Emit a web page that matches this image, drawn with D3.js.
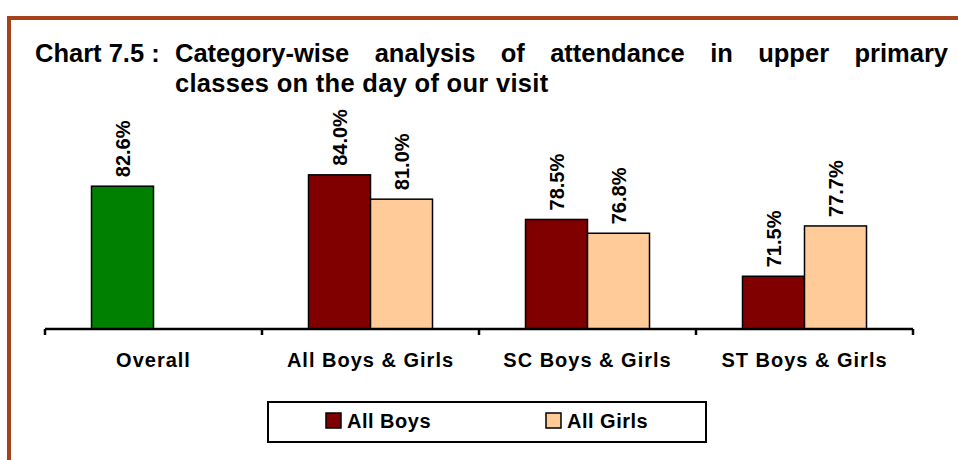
<!DOCTYPE html>
<html>
<head>
<meta charset="utf-8">
<script src="https://cdn.jsdelivr.net/npm/d3@7"></script>
<style>
  html, body { margin: 0; padding: 0; background: #fff; }
  svg { display: block; font-family: "Liberation Sans", Arial, sans-serif; }
</style>
</head>
<body>
<svg id="chart" width="958" height="460"></svg>
<script>
// ---- Data ----
const categories = ["Overall", "All Boys & Girls", "SC Boys & Girls", "ST Boys & Girls"];
const seriesNames = ["All Boys", "All Girls"];
const boysValues = [82.6, 84.0, 78.5, 71.5];   // first value is the "Overall" bar
const girlsValues = [null, 81.0, 76.8, 77.7];
const titlePrefix = "Chart 7.5 :";
const titleLine1 = ["Category-wise", "analysis", "of", "attendance", "in", "upper", "primary"];
const titleLine2 = "classes on the day of our visit";

// ---- Styles ----
const colors = { "All Boys": "#800000", "All Girls": "#FFCC99", overall: "#008000" };

const svg = d3.select("#chart");

// Frame
svg.append("line").attr("x1", 7).attr("x2", 958).attr("y1", 18).attr("y2", 18)
  .attr("stroke", "#A3421B").attr("stroke-width", 4);
svg.append("line").attr("x1", 9).attr("x2", 9).attr("y1", 16).attr("y2", 460)
  .attr("stroke", "#A3421B").attr("stroke-width", 4);

// Title
const tFont = "25.5px";
svg.append("text").attr("x", 35).attr("y", 62)
  .attr("font-size", tFont).attr("font-weight", "bold").text(titlePrefix);
const words = svg.append("g").selectAll("text").data(titleLine1).join("text")
  .attr("y", 62).attr("font-size", tFont).attr("font-weight", "bold").text(d => d);
const widths = [];
words.each(function() { widths.push(this.getComputedTextLength()); });
const lineStart = 175, lineEnd = 948;
const totalW = d3.sum(widths);
const gap = (lineEnd - lineStart - totalW) / (titleLine1.length - 1);
let cx = lineStart;
words.attr("x", (d, i) => { const v = cx; cx += widths[i] + gap; return v; });
svg.append("text").attr("x", 175).attr("y", 92)
  .attr("font-size", tFont).attr("font-weight", "bold").attr("letter-spacing", "0.3px").text(titleLine2);

// Scales
const x0 = d3.scaleBand().domain(categories).range([45, 913]).padding(0);
const x1 = d3.scaleBand().domain(seriesNames).range([0, x0.bandwidth()]).paddingInner(0).paddingOuter(0.75);
const y = d3.scaleLinear().domain([65, 100]).range([329, 45]);

const rows = categories.map((c, i) => ({
  cat: c,
  vals: [
    { s: "All Boys", v: boysValues[i], fill: i === 0 ? colors.overall : colors["All Boys"] },
    { s: "All Girls", v: girlsValues[i], fill: colors["All Girls"] }
  ].filter(d => d.v != null)
}));

const g = svg.append("g");
const groups = g.selectAll("g.cat").data(rows).join("g")
  .attr("class", "cat")
  .attr("transform", d => `translate(${x0(d.cat)},0)`);

groups.selectAll("rect").data(d => d.vals).join("rect")
  .attr("x", d => x1(d.s))
  .attr("width", x1.bandwidth())
  .attr("y", d => y(d.v))
  .attr("height", d => y.range()[0] - y(d.v))
  .attr("fill", d => d.fill)
  .attr("stroke", "#000").attr("stroke-width", 1.5);

groups.selectAll("text.val").data(d => d.vals).join("text")
  .attr("class", "val")
  .attr("transform", d => `translate(${x1(d.s) + x1.bandwidth() / 2 + 7},${y(d.v) - 9}) rotate(-90)`)
  .attr("font-size", "20px").attr("font-weight", "bold")
  .attr("text-anchor", "start")
  .text(d => d.v.toFixed(1) + "%");

// Axis
const axis = d3.axisBottom(x0).tickSize(0).tickPadding(24);
const axG = svg.append("g").attr("transform", "translate(0,329)").call(axis);
axG.select(".domain").attr("stroke", "#000").attr("stroke-width", 2.5).attr("d", `M${x0.range()[0]},0H${x0.range()[1]}`);
axG.selectAll(".tick text")
  .attr("font-size", "20px").attr("font-weight", "bold").attr("letter-spacing", "1px")
  .attr("font-family", "Liberation Sans, Arial, sans-serif").attr("fill", "#000")
  .attr("dy", "0.72em").attr("y", 24);
const bounds = categories.map(c => x0(c)).concat([x0.range()[1]]);
axG.selectAll("line.bound").data(bounds).join("line").attr("class", "bound")
  .attr("x1", d => d).attr("x2", d => d).attr("y1", 0).attr("y2", 6)
  .attr("stroke", "#000").attr("stroke-width", 2.5);

// Legend
const leg = svg.append("g");
leg.append("rect").attr("x", 268).attr("y", 402).attr("width", 438).attr("height", 40)
  .attr("fill", "#fff").attr("stroke", "#000").attr("stroke-width", 2);
const legX = [326, 546];
const li = leg.selectAll("g.li").data(seriesNames).join("g").attr("class", "li")
  .attr("transform", (d, i) => `translate(${legX[i]},413)`);
li.append("rect").attr("width", 15).attr("height", 15)
  .attr("fill", d => colors[d]).attr("stroke", "#000").attr("stroke-width", 1.5);
li.append("text").attr("x", 21).attr("y", 14.5)
  .attr("font-size", "20px").attr("font-weight", "bold").attr("letter-spacing", "0.5px").text(d => d);
</script>
</body>
</html>
